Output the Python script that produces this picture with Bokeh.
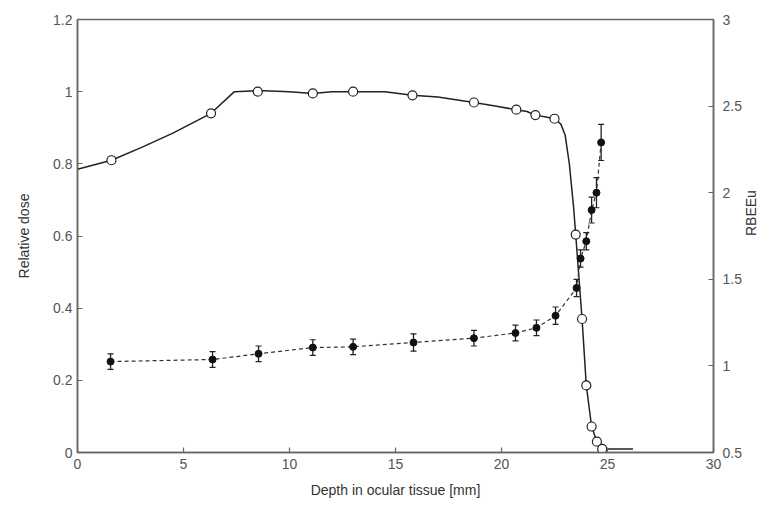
import math
from bokeh.plotting import figure
from bokeh.models import Range1d, LinearAxis, Whisker, ColumnDataSource, TeeHead, FixedTicker
from bokeh.embed import file_html
from bokeh.resources import INLINE

# Dose curve (solid line)
line_depth = [0.0, 1.6, 3.0, 4.5, 6.3, 7.4, 8.5, 10.0, 11.1, 12.0, 13.0, 14.5, 15.8, 17.0,
              18.7, 19.7, 20.7, 21.2, 21.6, 22.1, 22.5, 22.8, 23.0, 23.2, 23.4, 23.5,
              23.8, 24.0, 24.25, 24.5, 24.75, 26.2]
line_dose = [0.785, 0.81, 0.845, 0.885, 0.94, 1.0, 1.003, 1.0, 0.995, 1.0, 1.0, 1.0, 0.99, 0.985,
             0.97, 0.96, 0.95, 0.945, 0.935, 0.93, 0.925, 0.91, 0.88, 0.80, 0.68, 0.604,
             0.37, 0.186, 0.072, 0.03, 0.01, 0.01]

# Dose measurement points (open circles)
dose_depth = [1.6, 6.3, 8.5, 11.1, 13.0, 15.8, 18.7, 20.7, 21.6, 22.5, 23.5, 23.8, 24.0, 24.25, 24.5, 24.75]
dose_val = [0.81, 0.94, 1.0, 0.995, 1.0, 0.99, 0.97, 0.95, 0.935, 0.925, 0.604, 0.37, 0.186, 0.072, 0.03, 0.01]

# RBE points (filled, with error bars)
rbe_depth = [1.56, 6.37, 8.54, 11.1, 13.0, 15.85, 18.7, 20.66, 21.65, 22.55, 23.54, 23.73, 24.0, 24.25, 24.48, 24.7]
rbe_val = [1.025, 1.037, 1.07, 1.106, 1.11, 1.135, 1.16, 1.19, 1.22, 1.29, 1.45, 1.62, 1.72, 1.9, 2.0, 2.29]
rbe_err = [0.045, 0.045, 0.045, 0.045, 0.045, 0.05, 0.045, 0.045, 0.045, 0.05, 0.05, 0.05, 0.05, 0.075, 0.087, 0.104]

x_ticks = [0, 5, 10, 15, 20, 25, 30]
y_ticks = [0, 0.2, 0.4, 0.6, 0.8, 1.0, 1.2]
y2_ticks = [0.5, 1, 1.5, 2, 2.5, 3]

FONT = "Liberation Sans"
GREY = "#555555"

p = figure(width=769, height=505, output_backend="svg", toolbar_location=None,
           x_range=Range1d(0, 30), y_range=Range1d(0, 1.2),
           min_border_left=77, min_border_right=56, min_border_top=19, min_border_bottom=53)
p.extra_y_ranges = {"rbe": Range1d(0.5, 3)}
p.grid.visible = False
p.outline_line_color = "#666666"
p.outline_line_width = 1.5
p.background_fill_color = "white"
p.border_fill_color = "white"

def style_axis(ax):
    ax.major_tick_in = 5
    ax.major_tick_out = 0
    ax.minor_tick_in = 0
    ax.minor_tick_out = 0
    ax.axis_line_color = "#666666"
    ax.axis_line_width = 1.5
    ax.major_tick_line_color = "#666666"
    ax.major_tick_line_width = 1.2
    ax.major_label_text_font = FONT
    ax.major_label_text_font_size = "14px"
    ax.major_label_text_color = GREY
    ax.axis_label_text_font = FONT
    ax.axis_label_text_font_size = "14px"
    ax.axis_label_text_font_style = "normal"
    ax.axis_label_text_color = "#333333"

p.xaxis.ticker = FixedTicker(ticks=x_ticks)
p.yaxis.ticker = FixedTicker(ticks=y_ticks)
p.xaxis.axis_label = "Depth in ocular tissue [mm]"
p.yaxis.axis_label = "Relative dose"
p.yaxis.major_label_overrides = {0: "0", 1: "1", 0.2: "0.2", 0.4: "0.4", 0.6: "0.6", 0.8: "0.8", 1.2: "1.2"}
style_axis(p.xaxis[0])
style_axis(p.yaxis[0])
p.xaxis.major_label_standoff = 6
p.yaxis.major_label_standoff = 5
p.yaxis.axis_label_standoff = 18
p.xaxis.axis_label_standoff = 10

ax2 = LinearAxis(y_range_name="rbe", axis_label="RBEEu", ticker=FixedTicker(ticks=y2_ticks))
style_axis(ax2)
ax2.major_label_standoff = 9
ax2.axis_label_standoff = 6
ax2.axis_label_orientation = math.pi / 2
ax2.major_label_overrides = {1: "1", 2: "2", 3: "3"}
p.add_layout(ax2, "right")

# Dose curve
p.line(line_depth, line_dose, line_color="#222222", line_width=1.5)
p.scatter(dose_depth, dose_val, marker="circle", size=9, fill_color="white",
          line_color="#222222", line_width=1.2)

# RBE
src = ColumnDataSource(dict(x=rbe_depth, y=rbe_val,
                            lo=[v - e for v, e in zip(rbe_val, rbe_err)],
                            hi=[v + e for v, e in zip(rbe_val, rbe_err)]))
p.line("x", "y", source=src, y_range_name="rbe", line_color="#333333", line_width=1.2,
       line_dash="4 3")
w = Whisker(base="x", lower="lo", upper="hi", source=src, y_range_name="rbe",
            line_color="#222222", line_width=1.3,
            upper_head=TeeHead(size=6, line_color="#222222", line_width=1.2),
            lower_head=TeeHead(size=6, line_color="#222222", line_width=1.2))
p.add_layout(w)
p.scatter("x", "y", source=src, y_range_name="rbe", marker="circle", size=7,
          fill_color="#111111", line_color="#111111")

open("out.html", "w").write(file_html(p, INLINE))
